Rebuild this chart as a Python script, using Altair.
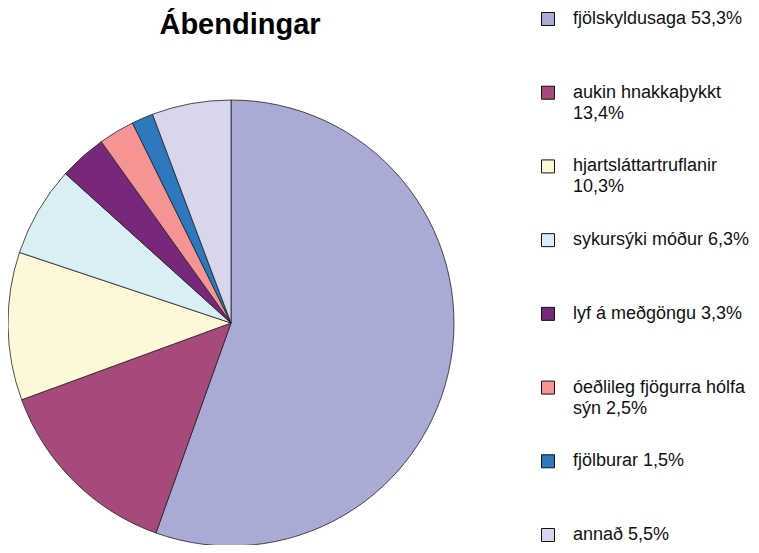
import altair as alt
import pandas as pd

title_text = "Ábendingar"
categories = [
    "fjölskyldusaga", "aukin hnakkaþykkt", "hjartsláttartruflanir",
    "sykursýki móður", "lyf á meðgöngu", "óeðlileg fjögurra hólfa sýn",
    "fjölburar", "annað",
]
values = [53.3, 13.4, 10.3, 6.3, 3.3, 2.5, 1.5, 5.5]
legend_labels = [
    "fjölskyldusaga 53,3%",
    "aukin hnakkaþykkt\n13,4%",
    "hjartsláttartruflanir\n10,3%",
    "sykursýki móður 6,3%",
    "lyf á meðgöngu 3,3%",
    "óeðlileg fjögurra hólfa\nsýn 2,5%",
    "fjölburar 1,5%",
    "annað 5,5%",
]
colors = ["#AAAAD6", "#A64A7B", "#FDF9D8", "#DAEEF5", "#78287A", "#F59494", "#2E78BE", "#D8D6EC"]

df = pd.DataFrame({
    "cat": categories,
    "value": values,
    "idx": list(range(len(categories))),
    "text": legend_labels,
})

FONT = "Liberation Sans"
color = alt.Color("cat:N", scale=alt.Scale(domain=categories, range=colors), legend=None)
yleg = alt.Y("cat:N", scale=alt.Scale(type="point", domain=categories, range=[11, 527], padding=0), axis=None)

base = alt.Chart(df)

pie = base.mark_arc(radius=223, stroke="#222222", strokeWidth=0.8).encode(
    theta=alt.Theta("value:Q", stack=True),
    color=color,
    order=alt.Order("idx:Q"),
    x=alt.value(223),
    y=alt.value(315),
)

squares = base.mark_square(size=169, filled=True, opacity=1, stroke="#111111", strokeWidth=1).encode(
    x=alt.value(540),
    y=yleg,
    color=color,
)

texts = base.mark_text(align="left", baseline="middle", fontSize=18, lineHeight=21,
                       lineBreak="\n", font=FONT, color="#111111").encode(
    x=alt.value(565),
    y=yleg,
    text="text:N",
)

title = alt.Chart(pd.DataFrame({"t": [title_text]})).mark_text(
    align="center", baseline="alphabetic", fontSize=29, fontWeight="bold", font=FONT, color="#000000"
).encode(
    text="t:N",
    x=alt.value(232),
    y=alt.value(26),
)

chart = alt.layer(pie, squares, texts, title).properties(
    width=743,
    height=537,
    autosize=alt.AutoSizeParams(type="none"),
    padding=0,
    background="white",
).configure_view(strokeWidth=0, stroke="transparent")

chart.save("out.html", embed_options={"renderer": "svg", "actions": False})
